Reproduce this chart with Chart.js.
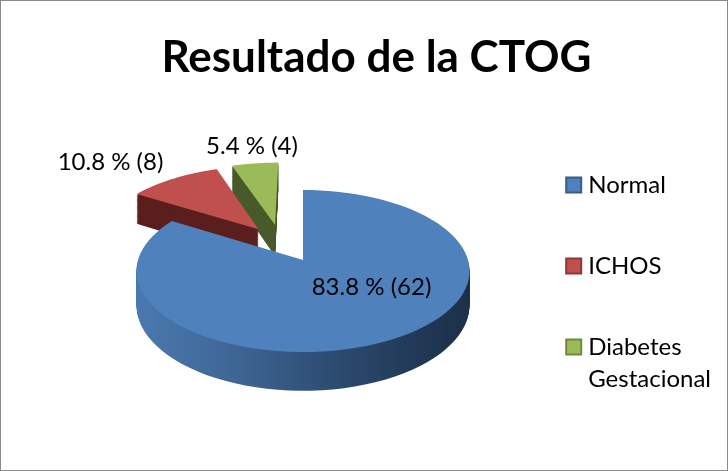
<!DOCTYPE html>
<html>
<head>
<meta charset="utf-8">
<style>
html,body{margin:0;padding:0;background:#fff}
#wrap{box-sizing:border-box;width:728px;height:471px;border:1px solid #8a8a8a;background:#fff}
canvas{display:block}
</style>
<script src="https://cdn.jsdelivr.net/npm/chart.js@4"></script>
</head>
<body>
<div id="wrap"><canvas id="c" width="726" height="469"></canvas></div>
<script>
const chartTitle = 'Resultado de la CTOG';
const categories = ['Normal', 'ICHOS', 'Diabetes Gestacional'];
const counts = [62, 8, 4];
const percents = [83.8, 10.8, 5.4];
const legendLines = [['Normal'], ['ICHOS'], ['Diabetes', 'Gestacional']];
const topColors = ['#4F81BD', '#C0504D', '#9BBB59'];
const sideColors = [null, '#5b1f1d', '#48592a'];
const swatchBorders = ['#385D8A', '#8C3836', '#71893F'];

const FONT = 'Lato, "Open Sans", sans-serif';

// Perspective view of the pie disc
const view = {cx: 302, cy: 259, a: 165, b: 79.5, k: 0.136, depth: 33.5};
const explode = [[0, 0], [-0.285, 0.41], [-0.18, 0.47]];
const labelPos = [[370.5, 286], [109.5, 161], [251, 145]];
const legendShiftY = 115;
const legendShiftX = -6;

function project(u, v, t) {
  const den = 1 + view.k * v;
  return [view.cx + view.a * u / den,
          view.cy - view.b * v / den + t * view.depth / den];
}
function slicePath(ctx, arc, i, t) {
  const [ox, oy] = explode[i];
  const n = 90;
  ctx.beginPath();
  let p = project(ox, oy, t);
  ctx.moveTo(p[0], p[1]);
  for (let s = 0; s <= n; s++) {
    const th = arc.startAngle + (arc.endAngle - arc.startAngle) * s / n;
    p = project(ox + Math.cos(th), oy - Math.sin(th), t);
    ctx.lineTo(p[0], p[1]);
  }
  ctx.closePath();
}

const pie3d = {
  id: 'pie3d',
  afterLayout(chart) {
    const l = chart.legend;
    l.top += legendShiftY;
    l.bottom += legendShiftY;
    l.left += legendShiftX;
    l.right += legendShiftX;
    l.legendHitBoxes.forEach(h => { h.top += legendShiftY; });
  },
  beforeDatasetsDraw(chart) {
    const ctx = chart.ctx;
    const arcs = chart.getDatasetMeta(0).data;
    const grad = ctx.createLinearGradient(view.cx - view.a, 0, view.cx + view.a, 0);
    grad.addColorStop(0, '#4a78ae');
    grad.addColorStop(0.28, '#3f6796');
    grad.addColorStop(0.55, '#2f4f75');
    grad.addColorStop(0.8, '#233c5a');
    grad.addColorStop(1, '#1c3049');
    ctx.save();
    [2, 1, 0].forEach(i => {
      const arc = arcs[i];
      ctx.fillStyle = sideColors[i] || grad;
      for (let d = 1; d >= 0.02; d -= 0.03) {
        slicePath(ctx, arc, i, d);
        ctx.fill();
      }
      slicePath(ctx, arc, i, 0);
      ctx.fillStyle = topColors[i];
      ctx.fill();
    });
    ctx.restore();
    return false;
  },
  beforeDatasetDraw() { return false; },
  afterDraw(chart) {
    const ctx = chart.ctx;
    ctx.save();
    ctx.fillStyle = '#000';
    ctx.font = '24px ' + FONT;
    ctx.textAlign = 'center';
    ctx.textBaseline = 'middle';
    percents.forEach((p, i) => {
      ctx.fillText(p.toFixed(1) + ' % (' + counts[i] + ')', labelPos[i][0], labelPos[i][1]);
    });
    chart.legend.legendHitBoxes.forEach((h, i) => {
      const cy = h.top + 12;
      ctx.fillStyle = topColors[i];
      ctx.strokeStyle = swatchBorders[i];
      ctx.lineWidth = 2;
      ctx.fillRect(h.left - 10, cy - 7.5, 15, 15);
      ctx.strokeRect(h.left - 10, cy - 7.5, 15, 15);
    });
    ctx.restore();
  }
};

new Chart(document.getElementById('c'), {
  type: 'pie',
  data: {
    labels: categories,
    datasets: [{data: counts, backgroundColor: topColors, borderWidth: 0}]
  },
  options: {
    responsive: false,
    animation: false,
    layout: {padding: {left: 25, top: 0, right: 0, bottom: 0}},
    plugins: {
      tooltip: {enabled: false},
      title: {
        display: true,
        text: chartTitle,
        color: '#000',
        font: {family: FONT, size: 44, weight: 'bold'},
        padding: {top: 30, bottom: 20}
      },
      legend: {
        position: 'right',
        align: 'start',
        maxWidth: 214,
        labels: {
          boxWidth: 0,
          padding: 57,
          color: '#000',
          font: {family: FONT, size: 24, lineHeight: 1.33},
          generateLabels: () => legendLines.map((t, i) => ({
            text: t.length > 1 ? t : t[0],
            fillStyle: topColors[i],
            strokeStyle: swatchBorders[i],
            lineWidth: 0,
            index: i
          }))
        }
      }
    }
  },
  plugins: [pie3d]
});
</script>
</body>
</html>
